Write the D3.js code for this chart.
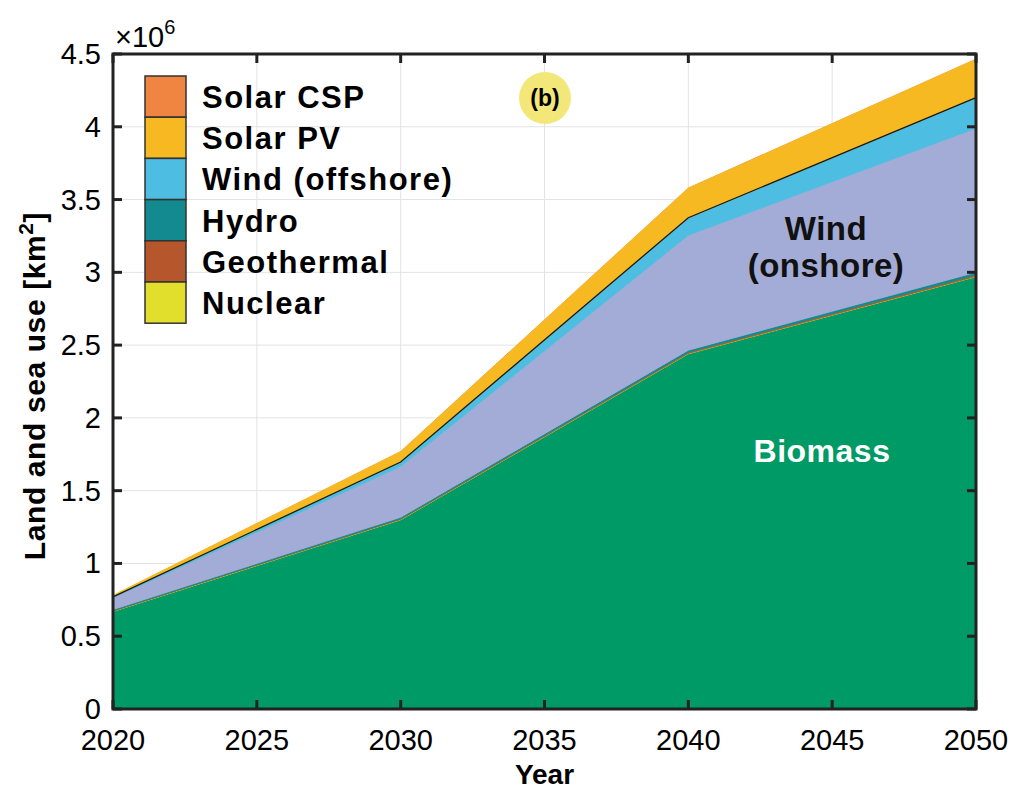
<!DOCTYPE html>
<html>
<head>
<meta charset="utf-8">
<script src="https://cdnjs.cloudflare.com/ajax/libs/d3/7.8.5/d3.min.js"></script>
<style>
  body { margin: 0; background: #fff; }
  text { font-family: "Liberation Sans", Arial, Helvetica, sans-serif; }
</style>
</head>
<body>
<script>
// data (km^2, in units of 1e6)
var years = [2020, 2030, 2040, 2050];
var biomass     = [0.67, 1.30, 2.44, 2.97];
var nuclear     = [0.002, 0.002, 0.002, 0.002];
var geothermal  = [0.003, 0.005, 0.008, 0.010];
var hydro       = [0.008, 0.010, 0.015, 0.018];
var windOnshore = [0.08, 0.35, 0.79, 0.99];
var windOffshore= [0.007, 0.03, 0.12, 0.21];
var solarPV     = [0.011, 0.072, 0.204, 0.265];
var solarCSP    = [0.001, 0.002, 0.002, 0.003];

var seriesNames = ["Biomass", "Nuclear", "Geothermal", "Hydro", "Wind (onshore)", "Wind (offshore)", "Solar PV", "Solar CSP"];
var seriesVals  = [biomass, nuclear, geothermal, hydro, windOnshore, windOffshore, solarPV, solarCSP];
var colors = ["#009a66", "#e2df2c", "#b5562c", "#138a90", "#a3acd6", "#4dbde1", "#f6b921", "#ef8540"];
var legendNames = ["Solar CSP", "Solar PV", "Wind (offshore)", "Hydro", "Geothermal", "Nuclear"];

var xTicks = [2020, 2025, 2030, 2035, 2040, 2045, 2050];
var yTicks = [0, 0.5, 1, 1.5, 2, 2.5, 3, 3.5, 4, 4.5];

var w = 1012, h = 790;
var pL = 113, pR = 976, pT = 54, pB = 709;

var svg = d3.select("body").append("svg").attr("width", w).attr("height", h);

var x = d3.scaleLinear().domain([2020, 2050]).range([pL, pR]);
var y = d3.scaleLinear().domain([0, 4.5]).range([pB, pT]);

// table for stacking
var table = years.map(function(yr, i) {
  var row = {year: yr};
  seriesNames.forEach(function(n, j) { row[n] = seriesVals[j][i]; });
  return row;
});
var stacked = d3.stack().keys(seriesNames)(table);

// grid
var grid = svg.append("g");
xTicks.forEach(function(t) {
  grid.append("line").attr("x1", x(t)).attr("x2", x(t)).attr("y1", pT).attr("y2", pB)
    .attr("stroke", "#e3e3e3").attr("stroke-width", 1);
});
yTicks.forEach(function(t) {
  grid.append("line").attr("x1", pL).attr("x2", pR).attr("y1", y(t)).attr("y2", y(t))
    .attr("stroke", "#e3e3e3").attr("stroke-width", 1);
});

var area = d3.area()
  .x(function(d) { return x(d.data.year); })
  .y0(function(d) { return y(d[0]); })
  .y1(function(d) { return y(d[1]); });

svg.append("g").selectAll("path").data(stacked).enter().append("path")
  .attr("d", area)
  .attr("fill", function(d, i) { return colors[i]; })
  .attr("stroke", function(d, i) { return d.key == "Solar CSP" ? "none" : colors[i]; })
  .attr("stroke-width", 0.8);

// dark edge on top of offshore wind
var offIdx = seriesNames.indexOf("Wind (offshore)");
svg.append("path")
  .datum(stacked[offIdx])
  .attr("d", d3.line().x(function(d) { return x(d.data.year); }).y(function(d) { return y(d[1]); }))
  .attr("fill", "none").attr("stroke", "#1a1a1a").attr("stroke-width", 1.3);

// axes box and inward ticks
var ax = svg.append("g").attr("stroke", "#222");
ax.append("rect").attr("x", pL).attr("y", pT).attr("width", pR - pL).attr("height", pB - pT)
  .attr("fill", "none").attr("stroke-width", 3);
xTicks.forEach(function(t) {
  ax.append("line").attr("x1", x(t)).attr("x2", x(t)).attr("y1", pB).attr("y2", pB - 9).attr("stroke-width", 3);
  ax.append("line").attr("x1", x(t)).attr("x2", x(t)).attr("y1", pT).attr("y2", pT + 9).attr("stroke-width", 3);
});
yTicks.forEach(function(t) {
  ax.append("line").attr("x1", pL).attr("x2", pL + 9).attr("y1", y(t)).attr("y2", y(t)).attr("stroke-width", 3);
  ax.append("line").attr("x1", pR).attr("x2", pR - 9).attr("y1", y(t)).attr("y2", y(t)).attr("stroke-width", 3);
});

// tick labels
svg.append("g").selectAll("text").data(xTicks).enter().append("text")
  .attr("x", function(d) { return x(d); }).attr("y", pB + 41)
  .attr("text-anchor", "middle").attr("font-size", 29).attr("fill", "#000")
  .text(function(d) { return d; });
svg.append("g").selectAll("text").data(yTicks).enter().append("text")
  .attr("x", pL - 12).attr("y", function(d) { return y(d) + 10; })
  .attr("text-anchor", "end").attr("font-size", 29).attr("fill", "#000")
  .text(function(d) { return d; });

// exponent
var ex = svg.append("text").attr("x", pL + 2).attr("y", 47).attr("font-size", 29).attr("fill", "#000");
ex.append("tspan").text("\u00d710");
ex.append("tspan").attr("dy", -13).attr("font-size", 20).text("6");

// axis titles
svg.append("text").attr("x", x(2035)).attr("y", 784).attr("text-anchor", "middle")
  .attr("font-size", 28).attr("font-weight", "bold").text("Year");
var yl = svg.append("text").attr("transform", "translate(45,386) rotate(-90)")
  .attr("text-anchor", "middle").attr("font-size", 30).attr("letter-spacing", 0.6).attr("font-weight", "bold");
yl.append("tspan").text("Land and sea use [km");
yl.append("tspan").attr("dy", -12).attr("font-size", 21).text("2");
yl.append("tspan").attr("dy", 12).text("]");

// legend
var lg = svg.append("g");
legendNames.forEach(function(n, i) {
  var c = colors[seriesNames.indexOf(n)];
  lg.append("rect").attr("x", 145).attr("y", 76 + i * 41.2).attr("width", 41).attr("height", 41.2)
    .attr("fill", c).attr("stroke", "#333").attr("stroke-width", 1.5);
  lg.append("text").attr("x", 202).attr("y", 76 + i * 41.2 + 32).attr("font-size", 31)
    .attr("letter-spacing", 1.5).attr("font-weight", "bold").attr("fill", "#000").text(n);
});

// panel label
svg.append("circle").attr("cx", 545).attr("cy", 98).attr("r", 26).attr("fill", "#f4e77a");
svg.append("text").attr("x", 545).attr("y", 106).attr("text-anchor", "middle").attr("font-size", 23)
  .attr("font-weight", "bold").text("(b)");

// area annotations
var wl = svg.append("text").attr("text-anchor", "middle").attr("font-size", 33)
  .attr("letter-spacing", 0.5).attr("font-weight", "bold").attr("fill", "#111");
wl.append("tspan").attr("x", 826).attr("y", 240).text("Wind");
wl.append("tspan").attr("x", 826).attr("y", 277).text("(onshore)");
svg.append("text").attr("x", 822).attr("y", 462).attr("text-anchor", "middle").attr("font-size", 32)
  .attr("letter-spacing", 0.5).attr("font-weight", "bold").attr("fill", "#fff").text("Biomass");
</script>
</body>
</html>
